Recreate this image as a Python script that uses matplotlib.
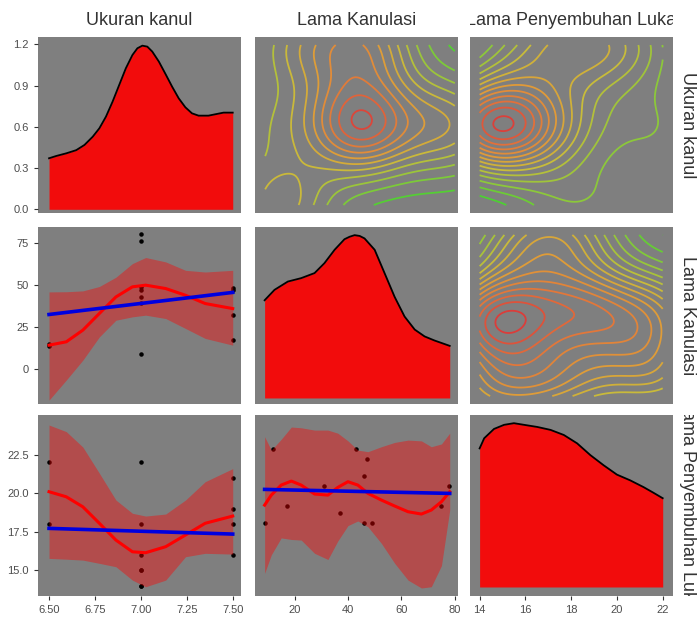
import numpy as np
import matplotlib.pyplot as plt
from matplotlib.colors import LinearSegmentedColormap

plt.rcParams['font.family'] = ['Liberation Sans', 'DejaVu Sans']

names = ['Ukuran kanul', 'Lama Kanulasi', 'Lama Penyembuhan Luka']

# observations (ukuran, lama kanulasi, lama penyembuhan)
ukuran = [6.5, 6.5, 7.0, 7.0, 7.0, 7.0, 7.0, 7.0, 7.0, 7.5, 7.5, 7.5, 7.5]
kanulasi = [15, 14, 9, 43, 39, 49, 47, 80, 76, 17, 32, 47, 48]
sembuh = [18, 22, 14, 15, 14, 22, 15, 18, 16, 16, 21, 19, 18]

# points shown in the kanulasi / penyembuhan panel
kan_pts = [12, 9, 17, 31, 37, 43, 47, 46, 46, 49, 75, 78]
sem_pts = [22.9, 18.1, 19.2, 20.5, 18.7, 22.9, 22.2, 21.1, 18.1, 18.1, 19.2, 20.5]

# diagonal densities
dens_u_x = [6.5, 6.54, 6.594, 6.648, 6.693, 6.738, 6.774, 6.81, 6.846, 6.882, 6.918, 6.954, 6.981,
            7.008, 7.035, 7.062, 7.098, 7.134, 7.17, 7.206, 7.242, 7.278, 7.314, 7.368, 7.405, 7.45, 7.5]
dens_u_y = [0.371, 0.388, 0.407, 0.43, 0.468, 0.528, 0.589, 0.674, 0.783, 0.904, 1.025, 1.122, 1.171,
            1.19, 1.183, 1.147, 1.074, 0.984, 0.892, 0.807, 0.742, 0.698, 0.681, 0.681, 0.691, 0.703, 0.703]
dens_k_x = [8.8, 12.5, 17.5, 22.5, 27.5, 31.2, 35.0, 38.7, 40.6, 42.5, 44.4, 46.2, 50.0, 53.7,
            57.5, 61.2, 65.0, 68.7, 72.4, 78.1]
dens_k_y = [0.60, 0.664, 0.715, 0.736, 0.767, 0.828, 0.91, 0.975, 0.99, 1.0, 0.995, 0.98, 0.91, 0.767,
            0.62, 0.50, 0.42, 0.378, 0.353, 0.32]
dens_p_x = [14.0, 14.2, 14.63, 15.07, 15.5, 15.94, 16.52, 17.1, 17.68, 18.26, 18.84, 19.42, 20.0,
            20.58, 21.16, 21.6, 22.0]
dens_p_y = [0.846, 0.908, 0.965, 0.99, 1.0, 0.99, 0.977, 0.959, 0.928, 0.877, 0.805, 0.743, 0.686,
            0.651, 0.61, 0.575, 0.542]

# loess fits with bands
uk_x = [6.5, 6.594, 6.684, 6.774, 6.864, 6.954, 7.026, 7.135, 7.243, 7.35, 7.5]
uk_fit = [14.2, 16.2, 23.1, 33.0, 42.8, 48.8, 49.8, 47.8, 43.8, 38.9, 35.9]
uk_hi = [45.8, 45.9, 46.4, 49.0, 54.5, 62.6, 66.2, 63.6, 58.6, 57.6, 58.6]
uk_lo = [-18.4, -6.5, 5.3, 19.1, 29.0, 31.0, 32.0, 30.0, 24.1, 18.2, 14.2]
up_fit = [20.1, 19.77, 19.12, 18.05, 16.96, 16.2, 16.14, 16.53, 17.29, 18.05, 18.52]
up_hi = [24.43, 24.0, 23.0, 21.3, 19.56, 18.7, 18.52, 18.65, 19.56, 20.75, 21.6]
up_lo = [15.77, 15.72, 15.66, 15.45, 15.23, 14.36, 13.93, 14.36, 15.88, 16.1, 16.05]
kp_x = [8.8, 11.3, 15.0, 18.8, 22.5, 27.5, 32.5, 36.2, 40.0, 43.7, 47.5, 52.5, 57.5, 62.5, 67.5,
        71.2, 75.0, 78.1]
kp_fit = [19.23, 19.88, 20.53, 20.79, 20.53, 19.95, 19.88, 20.38, 20.75, 20.53, 19.99, 19.56, 19.17,
          18.8, 18.65, 18.91, 19.45, 20.1]
kp_hi = [23.67, 22.8, 23.5, 24.3, 24.25, 24.1, 24.1, 23.9, 23.4, 22.8, 22.7, 23.02, 23.3, 23.45,
         23.4, 23.02, 23.2, 23.9]
kp_lo = [14.8, 16.0, 17.1, 17.0, 16.96, 16.1, 15.7, 16.9, 17.9, 18.2, 17.82, 16.75, 15.45, 14.36,
         13.85, 13.93, 15.3, 18.91]

# linear fits (end points)
uk_lm = [32.4, 45.5]
up_lm = [17.72, 17.35]
kp_lm = [20.25, 19.99]

W, H = 697, 618
cols = [(38, 241), (255, 458), (470, 673)]
rows = [(37, 213), (227, 404), (415, 596)]
xlims = [(6.44, 7.545), (5.2, 81.2), (13.58, 22.45)]

panel_bg = '#7f7f7f'
tick_col = '#4d4d4d'
cmap = LinearSegmentedColormap.from_list('gr', ['#2fd22f', '#8cc83a', '#c8bc3a', '#e09a38', '#e2703a', '#d8283a'])

fig = plt.figure(figsize=(W / 100, H / 100), dpi=100)


def add_panel(r, c):
    x0, x1 = cols[c]
    y0, y1 = rows[r]
    ax = fig.add_axes([x0 / W, 1 - y1 / H, (x1 - x0) / W, (y1 - y0) / H])
    ax.set_facecolor(panel_bg)
    for s in ax.spines.values():
        s.set_visible(False)
    ax.set_xlim(xlims[c])
    ax.tick_params(colors='#333333', labelcolor=tick_col, labelsize=8, length=3, width=0.8)
    if c != 0:
        ax.set_yticks([])
    if r != 2:
        ax.set_xticks([])
    return ax


def bw_nrd(v):
    v = np.asarray(v, float)
    q = np.percentile(v, [25, 75])
    return 4 * 1.06 * min(np.std(v, ddof=1), (q[1] - q[0]) / 1.34) * len(v) ** (-0.2)


def kde2d(x, y, n=100):
    x = np.asarray(x, float)
    y = np.asarray(y, float)
    gx = np.linspace(x.min(), x.max(), n)
    gy = np.linspace(y.min(), y.max(), n)
    hx, hy = bw_nrd(x) / 4, bw_nrd(y) / 4
    ax_ = np.exp(-0.5 * ((gx[:, None] - x[None, :]) / hx) ** 2)
    ay_ = np.exp(-0.5 * ((gy[:, None] - y[None, :]) / hy) ** 2)
    z = ax_ @ ay_.T / (len(x) * 2 * np.pi * hx * hy)
    return gx, gy, z.T


def diag(ax, x, y, ylim):
    ax.fill_between(x, 0, y, color='#f20c0c', lw=0)
    ax.plot(x, y, color='black', lw=1.3)
    ax.set_ylim(ylim)


def smooth(ax, px, py, sx, fit, lo, hi, lm):
    # points first, smoother on top (like geom_point + geom_smooth)
    ax.scatter(px, py, s=5, color='black', zorder=1)
    ax.fill_between(sx, lo, hi, color='red', alpha=0.4, lw=0, zorder=2)
    ax.plot(sx, fit, color='red', lw=2.2, zorder=3)
    ax.plot([sx[0], sx[-1]], lm, color='#0000e0', lw=2.6, zorder=4)


def contour(ax, x, y, nlev, ylim):
    gx, gy, z = kde2d(x, y)
    ax.contour(gx, gy, z, levels=nlev, cmap=cmap, linewidths=1.3)
    ax.set_ylim(ylim)


# row 1
ax = add_panel(0, 0)
diag(ax, dens_u_x, dens_u_y, (-0.027, 1.253))
ax.set_yticks([0.0, 0.3, 0.6, 0.9, 1.2])
ax.set_yticklabels(['0.0', '0.3', '0.6', '0.9', '1.2'])
ax = add_panel(0, 1)
contour(ax, kanulasi, ukuran, 10, (6.45, 7.55))
ax = add_panel(0, 2)
contour(ax, sembuh, ukuran, 14, (6.45, 7.55))

# row 2
ax = add_panel(1, 0)
smooth(ax, ukuran, kanulasi, uk_x, uk_fit, uk_lo, uk_hi, uk_lm)
ax.set_ylim(-20.7, 84.3)
ax.set_yticks([0, 25, 50, 75])
ax = add_panel(1, 1)
diag(ax, dens_k_x, dens_k_y, (-0.037, 1.05))
ax = add_panel(1, 2)
contour(ax, sembuh, kanulasi, 16, (5.5, 83.5))

# row 3
ax = add_panel(2, 0)
smooth(ax, ukuran, sembuh, uk_x, up_fit, up_lo, up_hi, up_lm)
ax.set_ylim(13.33, 25.08)
ax.set_yticks([15.0, 17.5, 20.0, 22.5])
ax.set_yticklabels(['15.0', '17.5', '20.0', '22.5'])
ax.set_xticks([6.5, 6.75, 7.0, 7.25, 7.5])
ax.set_xticklabels(['6.50', '6.75', '7.00', '7.25', '7.50'])
ax = add_panel(2, 1)
smooth(ax, kan_pts, sem_pts, kp_x, kp_fit, kp_lo, kp_hi, kp_lm)
ax.set_ylim(13.33, 25.08)
ax.set_xticks([20, 40, 60, 80])
ax = add_panel(2, 2)
diag(ax, dens_p_x, dens_p_y, (-0.055, 1.05))
ax.set_xticks([14, 16, 18, 20, 22])

# strips
for i, name in enumerate(names):
    x0, x1 = cols[i]
    sa = fig.add_axes([x0 / W, 1 - 37 / H, (x1 - x0) / W, 37 / H])
    sa.axis('off')
    sa.text(0.5, 0.45, name, ha='center', va='center', fontsize=13, color='#333333', clip_on=True)
    y0, y1 = rows[i]
    ra = fig.add_axes([673 / W, 1 - y1 / H, 24 / W, (y1 - y0) / H])
    ra.axis('off')
    ra.text(0.62, 0.5, name, ha='center', va='center', rotation=-90, fontsize=13, color='#333333', clip_on=True)

fig.savefig('out.png', dpi=100, facecolor='white')
